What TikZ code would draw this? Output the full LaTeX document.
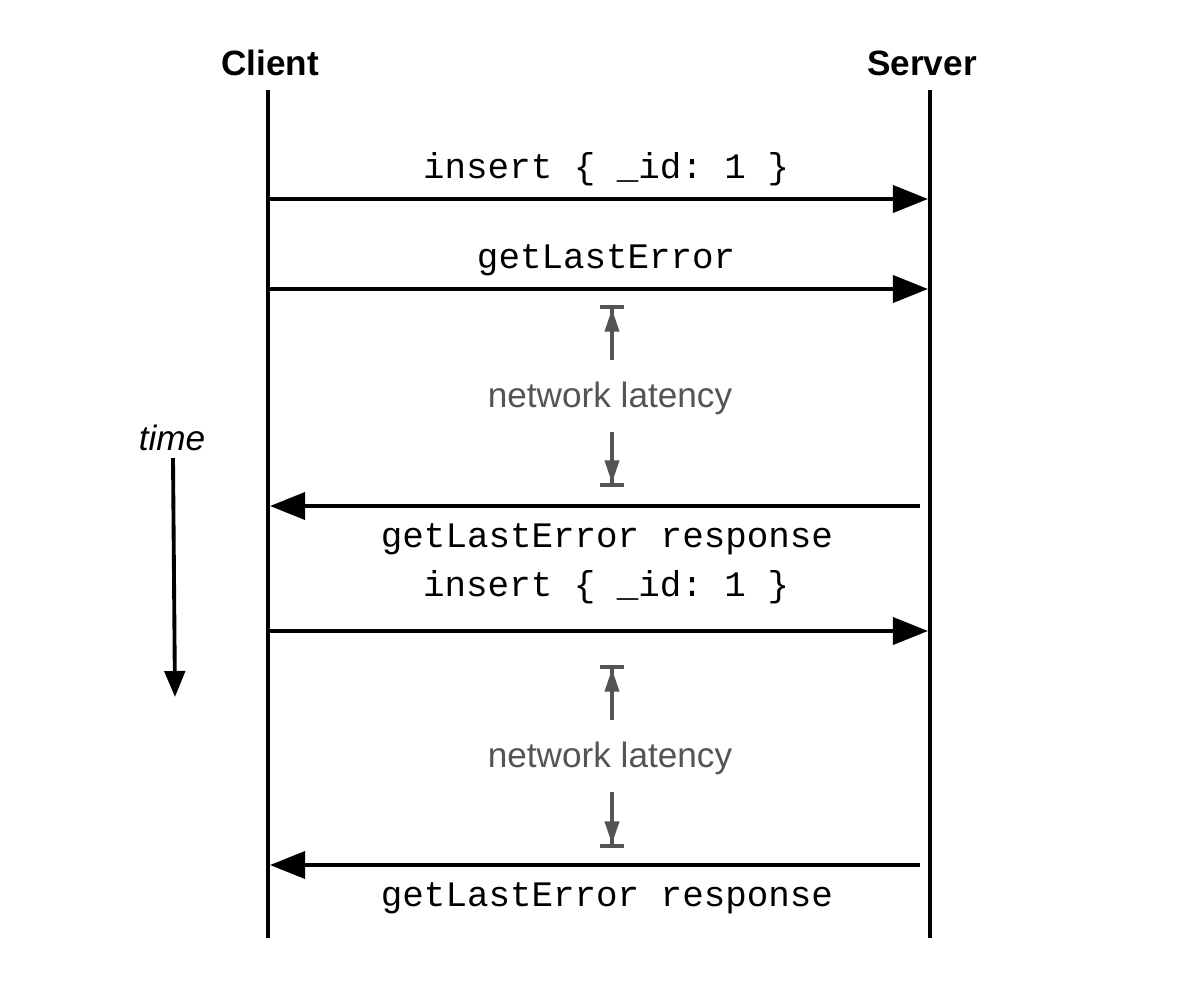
\documentclass[tikz,border=0pt]{standalone}
\usepackage{fontspec}
\setmainfont{Liberation Sans}
\setmonofont{Liberation Mono}
\usetikzlibrary{arrows.meta,positioning}

\begin{document}
\begin{tikzpicture}[
    x=0.01cm, y=-0.01cm,
    every node/.style={font=\fontsize{10}{12}\selectfont},
    party/.style={font=\fontsize{10}{12}\selectfont\bfseries},
    life/.style={line width=1.1pt},
    msg/.style={line width=1.1pt, -{Triangle[length=10pt,width=7.7pt]}},
    call/.style={font=\fontsize{10.2}{12}\selectfont\ttfamily, anchor=base},
    lat/.style={color=black!67, font=\fontsize{10}{12}\selectfont},
    latarrow/.style={color=black!67, line width=1.1pt, -{Triangle[length=6.5pt,width=4pt]Bar[width=7pt,line width=1.1pt]}}
]
\useasboundingbox (0,0) rectangle (1200,1000);

\node[party] (client) at (270,63) {Client};
\node[party] (server) at (922,63) {Server};

% lebenslinien
\coordinate (ctop) at (268,90);  \coordinate (cbot) at (268,938);
\coordinate (stop) at (930,90);  \coordinate (sbot) at (930,938);
\draw[life] (ctop) -- (cbot);
\draw[life] (stop) -- (sbot);

% erstes insert
\coordinate (c1) at (266,199); \coordinate (s1) at (928,199);
\coordinate (c2) at (266,289); \coordinate (s2) at (928,289);
\draw[msg] (c1) -- node[call, xshift=2.6pt, yshift=5.7pt]{insert \{ \_id: 1 \}} (s1);
\draw[msg] (c2) -- node[call, xshift=2.6pt, yshift=5.7pt]{getLastError} (s2);

\node[lat] (lat1) at (610,398) {network latency};
\coordinate (l1a) at (612,360); \coordinate (l1b) at (612,305);
\coordinate (l1c) at (612,432); \coordinate (l1d) at (612,487);
\draw[latarrow] (l1a) -- (l1b);
\draw[latarrow] (l1c) -- (l1d);

\coordinate (s3) at (920,506); \coordinate (c3) at (270,506);
\draw[msg] (s3) -- node[call, xshift=3.4pt, yshift=-11.7pt]{getLastError response} (c3);

% zweites insert
\coordinate (c4) at (266,631); \coordinate (s4) at (928,631);
\draw[msg] (c4) -- node[call, xshift=2.6pt, yshift=9.7pt]{insert \{ \_id: 1 \}} (s4);

\node[lat] (lat2) at (610,758) {network latency};
\coordinate (l2a) at (612,720); \coordinate (l2b) at (612,665);
\coordinate (l2c) at (612,792); \coordinate (l2d) at (612,848);
\draw[latarrow] (l2a) -- (l2b);
\draw[latarrow] (l2c) -- (l2d);

\coordinate (s5) at (920,865); \coordinate (c5) at (270,865);
\draw[msg] (s5) -- node[call, xshift=3.4pt, yshift=-11.9pt]{getLastError response} (c5);

% zeitachse
\node (time) at (172,438) {\itshape time};
\coordinate (tend) at (175,697);
\draw[line width=1.1pt, -{Triangle[length=7.4pt,width=5.8pt]}] (173,458) -- (tend);

\end{tikzpicture}
\end{document}
